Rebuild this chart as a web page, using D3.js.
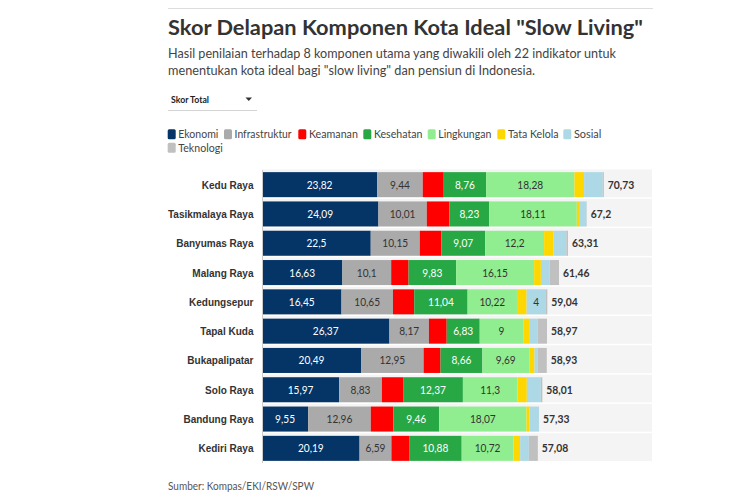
<!DOCTYPE html>
<html>
<head>
<meta charset="utf-8">
<script src="https://cdn.jsdelivr.net/npm/d3@7"></script>
<style>
  html, body { margin: 0; padding: 0; background: #fff; }
  svg { display: block; font-family: "Source Sans Pro", Lato, "Noto Sans", sans-serif; }
</style>
</head>
<body>
<svg id="chart" width="750" height="500"></svg>
<script>
const titleText = 'Skor Delapan Komponen Kota Ideal "Slow Living"';
const subtitleLines = [
  'Hasil penilaian terhadap 8 komponen utama yang diwakili oleh 22 indikator untuk',
  'menentukan kota ideal bagi "slow living" dan pensiun di Indonesia.'
];
const sourceText = 'Sumber: Kompas/EKI/RSW/SPW';
const dropdownLabel = 'Skor Total';

const categories = ['Kedu Raya','Tasikmalaya Raya','Banyumas Raya','Malang Raya','Kedungsepur','Tapal Kuda','Bukapalipatar','Solo Raya','Bandung Raya','Kediri Raya'];
const seriesNames = ['Ekonomi','Infrastruktur','Keamanan','Kesehatan','Lingkungan','Tata Kelola','Sosial','Teknologi'];
const seriesColors = ['#053466','#aaaaaa','#ff0000','#28a745','#90ee90','#ffd700','#add8e6','#c0c0c0'];
const labelColors = ['#ffffff','#333333','#ffffff','#ffffff','#333333','#333333','#333333','#333333'];

const ekonomi      = [23.82, 24.09, 22.5, 16.63, 16.45, 26.37, 20.49, 15.97, 9.55, 20.19];
const infrastruktur= [9.44, 10.01, 10.15, 10.1, 10.65, 8.17, 12.95, 8.83, 12.96, 6.59];
const keamanan     = [4.35, 4.7, 4.45, 3.6, 4.4, 3.68, 3.5, 4.4, 4.68, 3.66];
const kesehatan    = [8.76, 8.23, 9.07, 9.83, 11.04, 6.83, 8.66, 12.37, 9.46, 10.88];
const lingkungan   = [18.28, 18.11, 12.2, 16.15, 10.22, 9, 9.69, 11.3, 18.07, 10.72];
const tataKelola   = [2.0, 0.45, 1.95, 1.4, 2.0, 1.38, 1.1, 1.93, 0.6, 1.38];
const sosial       = [3.85, 1.55, 2.65, 1.8, 4, 1.6, 0.69, 2.9, 1.98, 1.79];
const teknologi    = [0.23, 0.06, 0.34, 1.95, 0.28, 1.94, 1.85, 0.31, 0.03, 1.87];
const totals       = [70.73, 67.2, 63.31, 61.46, 59.04, 58.97, 58.93, 58.01, 57.33, 57.08];

const seriesValues = [ekonomi, infrastruktur, keamanan, kesehatan, lingkungan, tataKelola, sosial, teknologi];
const labelledSeries = [true, true, false, true, true, false, true, false];

const fmt = v => String(v).replace('.', ',');

// squeeze text horizontally (the reference font is narrower than the installed ones)
function squeeze(sel, k) {
  sel.each(function () {
    const w = this.getComputedTextLength();
    if (w > 0) d3.select(this).attr('textLength', w * k).attr('lengthAdjust', 'spacingAndGlyphs');
  });
}
function fitTo(sel, width) {
  sel.attr('textLength', width).attr('lengthAdjust', 'spacingAndGlyphs');
}

const svg = d3.select('#chart');

// header rule
svg.append('line').attr('x1', 168).attr('x2', 653).attr('y1', 8.5).attr('y2', 8.5)
  .attr('stroke', '#dddddd').attr('stroke-width', 1);

fitTo(svg.append('text').attr('x', 168).attr('y', 35)
  .attr('font-size', 21.5).attr('font-weight', 700).attr('fill', '#333333')
  .text(titleText), 475);

const subWidths = [448, 367];
svg.selectAll('text.sub').data(subtitleLines).join('text')
  .attr('class', 'sub')
  .attr('x', 168).attr('y', (d, i) => 58 + i * 16.5)
  .attr('font-size', 13.5).attr('fill', '#444444')
  .text(d => d)
  .each(function (d, i) { fitTo(d3.select(this), subWidths[i]); });

// dropdown
fitTo(svg.append('text').attr('x', 171).attr('y', 102.5)
  .attr('font-size', 9.5).attr('font-weight', 700).attr('fill', '#222')
  .text(dropdownLabel), 38);
svg.append('path').attr('d', 'M245.5,97.5 L252,97.5 L248.75,101 Z').attr('fill', '#333');
svg.append('line').attr('x1', 168).attr('x2', 257).attr('y1', 110.5).attr('y2', 110.5)
  .attr('stroke', '#d4d4d4');

// legend
const legendPos = [[167.7,129.3],[224,129.3],[298.3,129.3],[363.3,129.3],[427.7,129.3],[497.3,129.3],[563.3,129.3],[167.7,142.7]];
const legendTextW = [40, 57, 49, 48.5, 53, 50.6, 27.4, 44.4];
const leg = svg.append('g').selectAll('g').data(seriesNames).join('g')
  .attr('transform', (d, i) => `translate(${legendPos[i][0]},${legendPos[i][1]})`);
leg.append('rect').attr('x', 0).attr('y', 0).attr('width', 8).attr('height', 10)
  .attr('rx', 1.5).attr('fill', (d, i) => seriesColors[i]);
leg.append('text').attr('x', 10.6).attr('y', 9)
  .attr('font-size', 11.5).attr('fill', '#444').text(d => d)
  .each(function (d, i) { fitTo(d3.select(this), legendTextW[i]); });

// scales
const x = d3.scaleLinear().domain([0, 80.7]).range([262, 652]);
const y = d3.scaleBand().domain(categories).range([170, 463])
  .paddingInner(0.146).paddingOuter(0.073);

// row backgrounds
const step = y.step();
svg.append('g').selectAll('rect').data(categories).join('rect')
  .attr('x', x(0)).attr('width', x(80.7) - x(0))
  .attr('y', d => y(d) - step * 0.073 - 0.5)
  .attr('height', step - 1.5)
  .attr('fill', '#f4f4f4');

// stacked data
const stackData = categories.map((c, i) => {
  const o = { cat: c };
  seriesNames.forEach((s, j) => { o[s] = seriesValues[j][i]; });
  return o;
});
const stack = d3.stack().keys(seriesNames)(stackData);

const layers = svg.append('g').selectAll('g').data(stack).join('g')
  .attr('fill', (d, i) => seriesColors[i]);
layers.selectAll('rect').data(d => d).join('rect')
  .attr('x', d => x(d[0]))
  .attr('width', d => Math.max(0, x(d[1]) - x(d[0])))
  .attr('y', d => y(d.data.cat))
  .attr('height', y.bandwidth());

// segment labels
stack.forEach((layer, j) => {
  if (!labelledSeries[j]) return;
  const t = svg.append('g').selectAll('text').data(layer.filter(d => (d[1] - d[0]) >= 3.95)).join('text')
    .attr('x', d => (x(d[0]) + x(d[1])) / 2)
    .attr('y', d => y(d.data.cat) + y.bandwidth() / 2 + 4)
    .attr('text-anchor', 'middle')
    .attr('font-size', 11.5)
    .attr('fill', labelColors[j])
    .text(d => fmt(seriesValues[j][categories.indexOf(d.data.cat)]));
  squeeze(t, 0.88);
});

// totals
const tot = svg.append('g').selectAll('text').data(categories).join('text')
  .attr('x', (d, i) => x(totals[i]) + 4)
  .attr('y', d => y(d) + y.bandwidth() / 2 + 4)
  .attr('font-size', 11.5).attr('font-weight', 700).attr('fill', '#333')
  .text((d, i) => fmt(totals[i]));
squeeze(tot, 0.9);

// y axis
const yAxis = svg.append('g').attr('transform', `translate(${x(0)},0)`)
  .call(d3.axisLeft(y).tickSize(0).tickPadding(8.5));
yAxis.select('.domain').attr('stroke', '#cccccc').attr('d', 'M0.5,170V463');
yAxis.selectAll('text').attr('font-size', 11).attr('font-weight', 700)
  .attr('fill', '#333').attr('font-family', 'inherit').attr('dy', null).attr('dominant-baseline', null)
  .attr('y', 4);
squeeze(yAxis.selectAll('text'), 0.91);

// source
fitTo(svg.append('text').attr('x', 168).attr('y', 489.5)
  .attr('font-size', 11.5).attr('fill', '#555').text(sourceText), 146);
</script>
</body>
</html>
